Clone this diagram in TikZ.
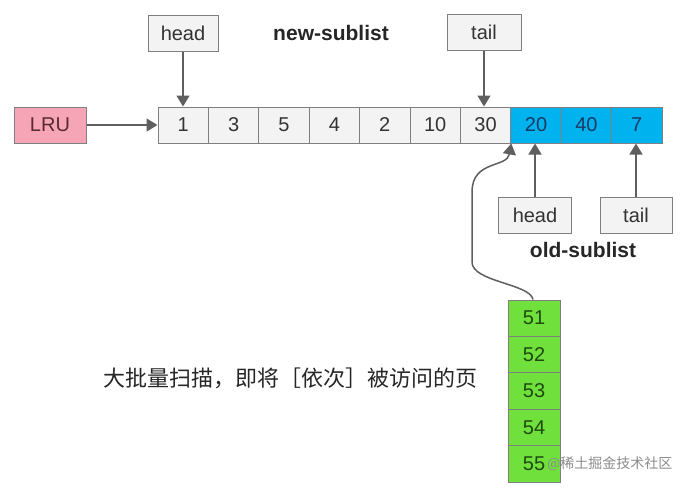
\documentclass[tikz,border=0pt]{standalone}
\usepackage{fontspec}
\setmainfont{Liberation Sans}
\newfontfamily\cjk{Noto Sans CJK SC}
\usetikzlibrary{arrows.meta}
\definecolor{bordergray}{HTML}{7F7F7F}
\definecolor{arrowgray}{HTML}{5F5F5F}
\definecolor{lrupink}{HTML}{F6A5B7}
\definecolor{lrutext}{HTML}{5A2A32}
\definecolor{newfill}{HTML}{F3F3F3}
\definecolor{newtext}{HTML}{333333}
\definecolor{oldfill}{HTML}{00B2EE}
\definecolor{oldtext}{HTML}{1A3A66}
\definecolor{greenfill}{HTML}{70E03C}
\definecolor{greentext}{HTML}{1E4A10}
\tikzset{
  basebox/.style={draw=bordergray, line width=1pt, inner sep=0pt, minimum height=36pt,
    font=\fontsize{20}{24}\selectfont},
  newcell/.style={basebox, fill=newfill, text=newtext, minimum width=50.4pt},
  oldcell/.style={basebox, fill=oldfill, text=oldtext, minimum width=50.4pt},
  greencell/.style={basebox, fill=greenfill, text=greentext, minimum width=52pt, minimum height=36.4pt},
  labelbox/.style={basebox, fill=newfill, text=newtext, minimum width=72pt},
  ptr/.style={draw=arrowgray, line width=1.5pt, -{Triangle[length=11pt,width=13pt]}, arrowgray},
  title/.style={font=\bfseries\fontsize{21}{25}\selectfont, text=black!85}
}
\begin{document}
\begin{tikzpicture}[x=1pt,y=-1pt]
\useasboundingbox (0,0) rectangle (691,488);
% main list
\foreach \v [count=\i] in {1,3,5,4,2,10,30}{
  \node[newcell] (c\i) at ({158+50.4*(\i-0.5)},125) {\v};
}
\node[oldcell] (c8) at ({158+50.4*7.5},125) {20};
\node[oldcell] (c9) at ({158+50.4*8.5},125) {40};
\node[oldcell] (c10) at ({158+50.4*9.5},125) {7};
% LRU
\node[basebox, fill=lrupink, text=lrutext, minimum width=72pt] (lru) at (50,125) {LRU};
% pointers
\node[labelbox, minimum width=70pt] (nhead) at (183,33) {head};
\node[labelbox, minimum width=74pt] (ntail) at (484,32.5) {tail};
\node[labelbox, minimum width=73pt] (ohead) at (535,215) {head};
\node[labelbox, minimum width=72pt] (otail) at (636,215) {tail};
\node[title] (newlbl) at (331,33) {new-sublist};
\node[title] (oldlbl) at (583,250) {old-sublist};
% green column
\foreach \v [count=\i] in {51,52,53,54,55}{
  \node[greencell] (g\i) at (534,{300+36.4*(\i-0.5)}) {\v};
}
% text
\node[anchor=west, inner sep=0pt, font=\cjk\fontsize{22}{26}\selectfont, text=black!85] (desc) at (103,378) {大批量扫描，即将［依次］被访问的页};
\node[anchor=west, inner sep=0pt, font=\cjk\fontsize{14}{16}\selectfont, text=black!45] (wm) at (547,464) {@稀土掘金技术社区};
% connectors
\draw[ptr] (lru.east) -- (c1.west);
\draw[ptr] (nhead.south) -- (nhead.south |- c1.north);
\draw[ptr] (ntail.south) -- (ntail.south |- c7.north);
\draw[ptr] (ohead.north) -- (ohead.north |- c8.south);
\draw[ptr] (otail.north) -- (otail.north |- c10.south);
\coordinate (gtop) at ([xshift=-1pt]g1.north);
\draw[ptr] (gtop) .. controls +(-3,-16) and +(0,20) .. (472,262) -- (472,192)
  .. controls (472,160) and (507,168) .. (c7.south east);
\end{tikzpicture}
\end{document}
